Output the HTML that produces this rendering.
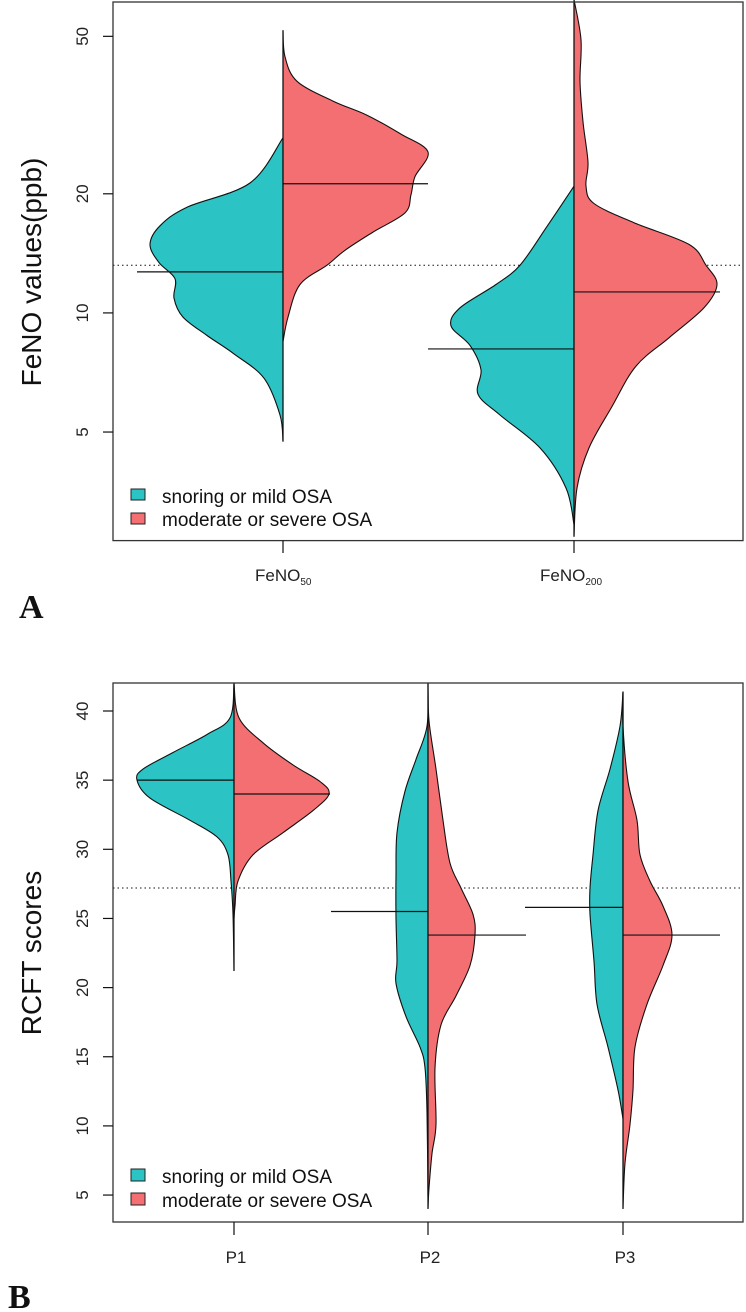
<!DOCTYPE html>
<html><head><meta charset="utf-8"><style>
html,body{margin:0;padding:0;background:#fff}
svg{display:block;font-family:"Liberation Sans",Arial,sans-serif}
</style></head><body>
<svg id="fig" width="746" height="1312" viewBox="0 0 746 1312">
<g id="pa"></g>
<g id="pb"></g>
</svg>
<script>
// ---------- Panel A data (FeNO, log scale) ----------
const catsA = ["FeNO50", "FeNO200"];
const ticksA = [5, 10, 20, 50];
const a1TealVals = [27.7,21.3,18.5,16.6,14.9,13.4,12.2,10.9,9.76,8.77,7.88,6.84,5.52,4.73];
const a1TealDens = [0,33,96,123,133,124,108,109,100,76,49,19,3,0];
const a1RedVals = [51.8,44.4,38.5,34.3,31.6,28.3,25.5,22.1,19.9,17.9,16.0,14.4,13.2,11.8,9.76,8.47];
const a1RedDens = [0,2,14,50,84,118,145,132,128,122,90,62,44,17,5,0];
const a2TealVals = [20.9,16.4,13.2,11.8,10.3,9.28,8.28,7.18,6.23,5.52,4.56,3.61,2.92];
const a2TealDens = [0,28,54,78,114,123,104,93,96,74,34,8,0];
const a2RedVals = [61.9,49.0,38.5,30.4,24.0,20.9,18.9,16.9,14.9,13.2,11.8,10.3,8.65,7.34,5.80,4.56,3.61,2.72];
const a2RedDens = [0,7,6,9,14,12,20,60,115,132,143,130,95,62,38,15,3,0];
const medTealA = [12.7, 8.11];
const medRedA = [21.2, 11.3];
const medTealLenA = [146, 146];
const medRedLenA = [145, 146];
const refA = 13.2;
// ---------- Panel B data (RCFT) ----------
const catsB = ["P1", "P2", "P3"];
const ticksB = [5,10,15,20,25,30,35,40];
const b1TealVals = [42.0,39.5,38.3,37.0,35.8,35.0,33.7,32.1,30.9,29.6,27.7,25.3,21.2];
const b1TealDens = [0,4,27,61,91,97,84,44,17,6,3,1,0];
const b1RedVals = [42.0,39.5,37.7,36.1,34.9,34.0,32.8,31.2,29.6,27.7,25.9,25.0];
const b1RedDens = [0,5,29,59,86,95,79,49,19,4,1,0];
const b2TealVals = [42.0,38.9,36.5,34.2,31.2,28.1,25.0,21.9,20.3,17.9,15.7,14.2,11.0,4.9];
const b2TealDens = [0,1,12,23,31,32,32,31,32,22,8,3,1,0];
const b2RedVals = [42.0,39.3,35.8,32.1,29.0,27.2,25.3,23.8,21.6,19.4,17.3,14.2,10.1,8.0,5.5,4.0];
const b2RedDens = [0,1,8,15,22,33,45,47,42,28,13,7,8,4,1,0];
const b3TealVals = [41.4,38.9,35.8,32.8,29.6,27.2,25.3,21.9,18.8,15.7,12.6,10.5];
const b3TealDens = [0,3,13,25,30,33,33,29,26,15,5,0];
const b3RedVals = [41.4,38.9,34.9,32.1,29.6,27.7,25.9,23.8,21.6,18.8,15.7,12.6,10.1,7.3,4.0];
const b3RedDens = [0,0,5,14,17,27,40,49,40,24,12,10,7,2,0];
const medTealB = [35.0, 25.5, 25.8];
const medRedB = [34.0, 23.8, 23.8];
const medTealLenB = [97, 97, 98];
const medRedLenB = [96, 98, 97];
const refB = 27.2;

const TEAL = "#2bc3c3", RED = "#f46f72";
const NS = "http://www.w3.org/2000/svg";
function mk(parent, tag, attrs){const e=document.createElementNS(NS,tag);for(const k in attrs)e.setAttribute(k,attrs[k]);parent.appendChild(e);return e;}

const xA = [283, 574];
function yA(v){return 193.8 - (Math.log10(v) - Math.log10(20)) * 395.7;}
const xB = [234, 428, 623];
function yB(v){return 711 + (40 - v) * 13.83;}
function dens(d){return d;}

function spline(pts){
  let d = "M" + pts[0][0].toFixed(1) + "," + pts[0][1].toFixed(1);
  for(let i=0;i<pts.length-1;i++){
    const p0=pts[Math.max(0,i-1)],p1=pts[i],p2=pts[i+1],p3=pts[Math.min(pts.length-1,i+2)];
    const c1=[p1[0]+(p2[0]-p0[0])/6,p1[1]+(p2[1]-p0[1])/6];
    const c2=[p2[0]-(p3[0]-p1[0])/6,p2[1]-(p3[1]-p1[1])/6];
    d+=" C"+c1[0].toFixed(1)+","+c1[1].toFixed(1)+" "+c2[0].toFixed(1)+","+c2[1].toFixed(1)+" "+p2[0].toFixed(1)+","+p2[1].toFixed(1);
  }
  return d;
}
function half(g, cx, vals, ds, side, yf, color, name){
  const pts = vals.map((v,i)=>[cx + side*dens(ds[i]), yf(v)]);
  const d = spline(pts) + " L" + cx + "," + yf(vals[vals.length-1]) + " L" + cx + "," + yf(vals[0]) + " Z";
  const p = mk(g,"path",{d:d,fill:color,stroke:"#111","stroke-width":1.1});
  
  
}
function line(g,x1,y1,x2,y2,name,extra){
  const l = mk(g,"line",Object.assign({x1:x1,y1:y1,x2:x2,y2:y2,stroke:"#111","stroke-width":1.2},extra||{}));
  
  
  return l;
}
function text(g,x,y,s,attrs,name){
  const t = mk(g,"text",Object.assign({x:x,y:y},attrs));
  t.textContent = s;
  
  
  return t;
}

// ===== Panel A =====
const pa = document.getElementById("pa");
line(pa,113,yA(refA),743,yA(refA),"reference-line-a",{"stroke-dasharray":"1.5,3","stroke-width":1});
half(pa,xA[0],a1TealVals,a1TealDens,-1,yA,TEAL,"violin-feno50-mild");
half(pa,xA[0],a1RedVals,a1RedDens,1,yA,RED,"violin-feno50-severe");
half(pa,xA[1],a2TealVals,a2TealDens,-1,yA,TEAL,"violin-feno200-mild");
half(pa,xA[1],a2RedVals,a2RedDens,1,yA,RED,"violin-feno200-severe");
line(pa,xA[0],yA(a1RedVals[0]),xA[0],yA(a1TealVals[a1TealVals.length-1]),"center-line-feno50");
line(pa,xA[1],2,xA[1],yA(a2RedVals[a2RedVals.length-1]),"center-line-feno200");
for(let i=0;i<2;i++){
  line(pa,xA[i]-medTealLenA[i],yA(medTealA[i]),xA[i],yA(medTealA[i]),"median-mild-"+catsA[i]);
  line(pa,xA[i],yA(medRedA[i]),xA[i]+medRedLenA[i],yA(medRedA[i]),"median-severe-"+catsA[i]);
}
const boxA = mk(pa,"rect",{x:113,y:2,width:630,height:538.6,fill:"none",stroke:"#333","stroke-width":1.3});


ticksA.forEach(t=>{
  line(pa,103,yA(t),113,yA(t),"y-tick-a");
  text(pa,0,0,String(t),{transform:"translate("+88+","+yA(t)+") rotate(-90)","text-anchor":"middle","font-size":17,fill:"#222"},"y-tick-label-a");
});
xA.forEach(x=>line(pa,x,540.6,x,553,"x-tick-a"));
const l1 = text(pa,255,581,"FeNO",{"font-size":17,fill:"#222"},"x-label-feno50");
const s1 = mk(l1,"tspan",{"font-size":10,dy:4}); s1.textContent="50";
const l2 = text(pa,540,581,"FeNO",{"font-size":17,fill:"#222"},"x-label-feno200");
const s2 = mk(l2,"tspan",{"font-size":10,dy:4}); s2.textContent="200";
text(pa,0,0,"FeNO values(ppb)",{transform:"translate(41,272) rotate(-90)","text-anchor":"middle","font-size":28,fill:"#111"},"y-axis-title-a");
[[TEAL,489,"snoring or mild OSA",503],[RED,513,"moderate or severe OSA",526]].forEach((L,i)=>{
  const r = mk(pa,"rect",{x:131,y:L[1],width:14,height:11,fill:L[0],stroke:"#222","stroke-width":1});
  
  
  text(pa,162,L[3],L[2],{"font-size":19,fill:"#111"},"legend-label-a-"+i);
});
text(pa,19,618,"A",{"font-family":"Liberation Serif, serif","font-weight":"bold","font-size":34,fill:"#111"},"panel-label-a");

// ===== Panel B =====
const pb = document.getElementById("pb");
line(pb,113,yB(refB),743,yB(refB),"reference-line-b",{"stroke-dasharray":"1.5,3","stroke-width":1});
const bT=[[b1TealVals,b1TealDens],[b2TealVals,b2TealDens],[b3TealVals,b3TealDens]];
const bR=[[b1RedVals,b1RedDens],[b2RedVals,b2RedDens],[b3RedVals,b3RedDens]];
for(let i=0;i<3;i++){
  half(pb,xB[i],bT[i][0],bT[i][1],-1,yB,TEAL,"violin-"+catsB[i]+"-mild");
  half(pb,xB[i],bR[i][0],bR[i][1],1,yB,RED,"violin-"+catsB[i]+"-severe");
  const top = Math.max(bT[i][0][0],bR[i][0][0]);
  const bot = Math.min(bT[i][0][bT[i][0].length-1],bR[i][0][bR[i][0].length-1]);
  line(pb,xB[i],Math.max(683,yB(top)),xB[i],Math.min(1222,yB(bot)),"center-line-"+catsB[i]);
  line(pb,xB[i]-medTealLenB[i],yB(medTealB[i]),xB[i],yB(medTealB[i]),"median-mild-"+catsB[i]);
  line(pb,xB[i],yB(medRedB[i]),xB[i]+medRedLenB[i],yB(medRedB[i]),"median-severe-"+catsB[i]);
}
const boxB = mk(pb,"rect",{x:113,y:683,width:630,height:539,fill:"none",stroke:"#333","stroke-width":1.3});


ticksB.forEach(t=>{
  line(pb,103,yB(t),113,yB(t),"y-tick-b");
  text(pb,0,0,String(t),{transform:"translate("+88+","+yB(t)+") rotate(-90)","text-anchor":"middle","font-size":17,fill:"#222"},"y-tick-label-b");
});
xB.forEach((x,i)=>{
  line(pb,x,1222,x,1235,"x-tick-b");
  text(pb,x+2,1263,catsB[i],{"text-anchor":"middle","font-size":17,fill:"#222"},"x-label-"+catsB[i]);
});
text(pb,0,0,"RCFT scores",{transform:"translate(41,953) rotate(-90)","text-anchor":"middle","font-size":28,fill:"#111"},"y-axis-title-b");
[[TEAL,1169,"snoring or mild OSA",1183],[RED,1193,"moderate or severe OSA",1207]].forEach((L,i)=>{
  const r = mk(pb,"rect",{x:131,y:L[1],width:14,height:12,fill:L[0],stroke:"#222","stroke-width":1});
  
  
  text(pb,162,L[3],L[2],{"font-size":19,fill:"#111"},"legend-label-b-"+i);
});
text(pb,8,1308,"B",{"font-family":"Liberation Serif, serif","font-weight":"bold","font-size":34,fill:"#111"},"panel-label-b");
</script>
</body></html>
